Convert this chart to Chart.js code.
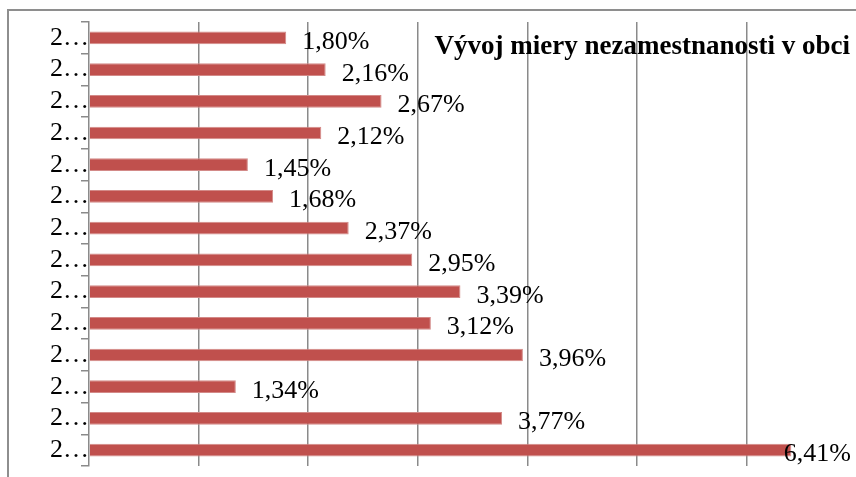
<!DOCTYPE html>
<html>
<head>
<meta charset="utf-8">
<script src="https://cdn.jsdelivr.net/npm/chart.js@4/dist/chart.umd.min.js"></script>
<style>
  html, body { margin: 0; padding: 0; background: #fff; overflow: hidden; }
  #wrap { width: 856px; height: 477px; }
</style>
</head>
<body>
<div id="wrap"><canvas id="myBarChart" width="856" height="477"></canvas></div>
<script>
// categories as shown on the axis (year labels are cut off in the source)
var categories = ["2…", "2…", "2…", "2…", "2…", "2…", "2…", "2…", "2…", "2…", "2…", "2…", "2…", "2…"];
// unemployment rate in %, top to bottom
var rates = [1.80, 2.16, 2.67, 2.12, 1.45, 1.68, 2.37, 2.95, 3.39, 3.12, 3.96, 1.34, 3.77, 6.41];
var xTicks = [0, 1, 2, 3, 4, 5, 6, 7];
var chartTitle = "Vývoj miery nezamestnanosti v obci";

var gray = "#8a8a8a";

// outer frame of the chart object (only top and left edges are visible)
var framePlugin = {
  id: "frame",
  beforeDraw: function (chart) {
    var ctx = chart.ctx;
    ctx.save();
    ctx.strokeStyle = "#8e8e8e";
    ctx.lineWidth = 2;
    ctx.beginPath();
    ctx.moveTo(8, 477);
    ctx.lineTo(8, 10);
    ctx.lineTo(856, 10);
    ctx.stroke();
    ctx.restore();
  }
};

// overlay title and value labels
var labelPlugin = {
  id: "labels",
  afterDatasetsDraw: function (chart) {
    var ctx = chart.ctx;
    var meta = chart.getDatasetMeta(0);
    ctx.save();
    ctx.fillStyle = "#000";
    ctx.font = '26px "Liberation Serif", "Times New Roman", serif';
    ctx.textBaseline = "alphabetic";
    ctx.textAlign = "left";
    meta.data.forEach(function (bar, i) {
      var txt = rates[i].toFixed(2).replace(".", ",") + "%";
      var w = ctx.measureText(txt).width;
      var x = Math.min(bar.x + 16, chart.width - 5 - w);
      ctx.fillText(txt, x, bar.y + 11);
    });
    ctx.font = 'bold 27px "Liberation Serif", "Times New Roman", serif';
    ctx.textAlign = "right";
    ctx.fillText(chartTitle, 850, 54);
    ctx.restore();
  }
};

var ctx = document.getElementById("myBarChart").getContext("2d");
new Chart(ctx, {
  type: "bar",
  data: {
    labels: categories,
    datasets: [
      {
        data: rates,
        backgroundColor: "#C0504D",
        borderColor: "#D38A88",
        borderWidth: 1,
        barPercentage: 0.4,
        categoryPercentage: 1
      }
    ]
  },
  options: {
    indexAxis: "y",
    responsive: false,
    animation: false,
    layout: { padding: { left: 0, right: 0, top: 22, bottom: 11 } },
    plugins: {
      legend: { display: false },
      tooltip: { enabled: false },
      title: { display: false }
    },
    scales: {
      x: {
        min: xTicks[0],
        max: xTicks[xTicks.length - 1],
        afterBuildTicks: function (scale) {
          scale.ticks = xTicks.map(function (v) { return { value: v }; });
        },
        afterFit: function (scale) { scale.height = 0; },
        ticks: { display: false },
        border: { display: false },
        grid: {
          drawTicks: false,
          lineWidth: 1.5,
          color: function (c) {
            return c.tick && c.tick.value > 0 && c.tick.value < 7 ? gray : "rgba(0,0,0,0)";
          }
        }
      },
      y: {
        afterFit: function (scale) { scale.width = 89; },
        border: { display: true, color: gray, width: 1.5 },
        grid: {
          drawOnChartArea: false,
          drawTicks: true,
          tickLength: 8,
          color: gray,
          lineWidth: 1.5
        },
        ticks: {
          autoSkip: false,
          padding: -8,
          color: "#000",
          font: { family: '"Liberation Serif", "Times New Roman", serif', size: 26 }
        }
      }
    }
  },
  plugins: [framePlugin, labelPlugin]
});
</script>
</body>
</html>
